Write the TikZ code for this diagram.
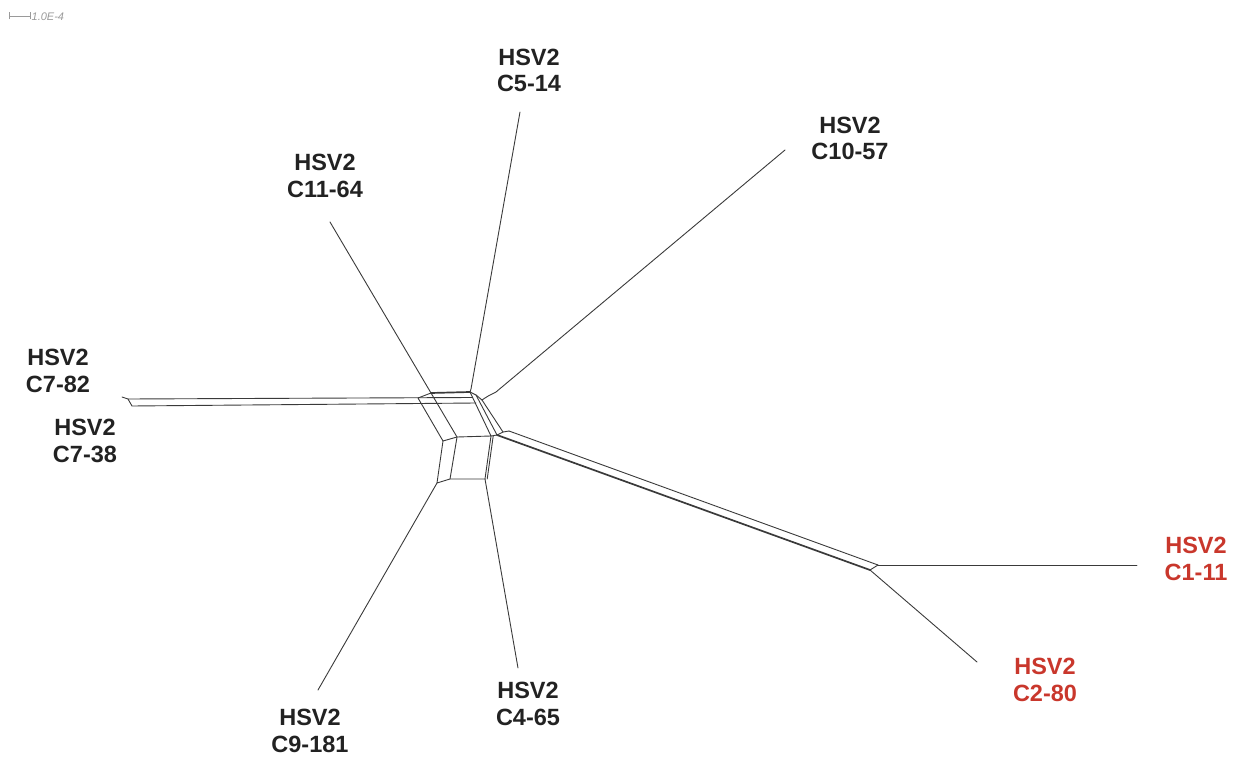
\documentclass[tikz,border=0pt]{standalone}
\usepackage{fontspec}
\setmainfont{Liberation Sans}
\definecolor{edgec}{HTML}{3A3A3A}
\definecolor{labc}{HTML}{222222}
\definecolor{redlab}{HTML}{C9372C}
\definecolor{scalec}{HTML}{9A9A9A}
\tikzset{
  edge/.style={draw=edgec, line width=0.9pt, line cap=round, line join=round},
  thickedge/.style={edge, line width=1.7pt},
  taxon/.style={font=\bfseries\fontsize{23.5}{26.5}\selectfont, text=labc, align=center, inner sep=0pt},
  redtaxon/.style={taxon, text=redlab},
}
\begin{document}
\begin{tikzpicture}[x=1pt, y=-1pt]
\useasboundingbox (0,0) rectangle (1235,757);

% scale bar
\coordinate (sb1) at (9,16);
\coordinate (sb2) at (30,16);
\draw[scalec, line width=0.8pt] (sb1) -- (sb2);
\draw[scalec, line width=0.8pt] ([yshift=-3.5pt]sb1) -- ([yshift=3.5pt]sb1);
\draw[scalec, line width=0.8pt] ([yshift=-3.5pt]sb2) -- ([yshift=3.5pt]sb2);
\node[anchor=west, inner sep=0pt, text=scalec, font=\itshape\fontsize{11}{13}\selectfont] (sblab) at (31.5,17) {1.0E-4};

% taxon labels
\node[taxon] (t514) at (529,70.5) {HSV2\\C5-14};
\node[taxon] (t1164) at (325,176) {HSV2\\C11-64};
\node[taxon] (t1057) at (850,138.5) {HSV2\\C10-57};
\node[taxon] (t782) at (58,371) {HSV2\\C7-82};
\node[taxon] (t738) at (85,441) {HSV2\\C7-38};
\node[redtaxon] (t111) at (1196,559) {HSV2\\C1-11};
\node[redtaxon] (t280) at (1045,680) {HSV2\\C2-80};
\node[taxon] (t465) at (528,704) {HSV2\\C4-65};
\node[taxon] (t9181) at (310,731) {HSV2\\C9-181};

% central splits network: corner points
\coordinate (A) at (431,393);
\coordinate (B) at (470,392);
\coordinate (C) at (491,436);
\coordinate (D) at (457,437);
\coordinate (W1) at (418,398);
\coordinate (W2) at (443,441);
\coordinate (Cv) at (485,479);
\coordinate (Dv) at (450,479);
\coordinate (W2v) at (437,483);
\coordinate (B1) at (476,395);
\coordinate (C1) at (497,435);
\coordinate (B2) at (482,400);
\coordinate (C2) at (503,432);
\coordinate (U0) at (509,431);
\coordinate (U1) at (878,565);
\coordinate (L1) at (870,570);

% leaf ends
\coordinate (e514) at (520,112);
\coordinate (e1164) at (330,222);
\coordinate (e1057) at (785,150);
\coordinate (e782a) at (122,397);
\coordinate (e782) at (128,399);
\coordinate (e738) at (132,406);
\coordinate (e111) at (1137,565);
\coordinate (e280) at (977,662);
\coordinate (e465) at (518,668);
\coordinate (e9181) at (318,690);

% top box and left strip
\draw[thickedge] (A) -- (B);
\draw[edge] (A) -- (D) -- (C) -- (B);
\draw[edge] (A) -- (W1) -- (W2) -- (D);
% right band
\draw[edge] (B) -- (B1) -- (B2);
\draw[edge] (B1) -- (C1);
\draw[edge] (B2) -- (C2);
\draw[edge] (C) -- (C1) -- (C2) -- (U0);
% lower box
\draw[edge] (W2) -- (W2v) -- (Dv) -- (Cv);
\draw[edge] (D) -- (Dv);
\draw[edge] (C) -- (Cv);
\draw[edge] ([xshift=2.2pt]C) -- ([xshift=2.2pt]Cv);

% C7 branch (two parallel edges crossing the box)
\draw[edge] (e782a) -- (e782) -- (472.5,397.5);
\draw[edge] (e782) -- (e738) -- (476,403);

% pendant edges
\draw[edge] (e1164) -- (A);
\draw[edge] (e514) -- (471,389) .. controls (470.5,391) .. (B);
\draw[edge] (e1057) -- (496,392) .. controls (488,396) .. (B2);
\draw[edge] (e9181) -- (W2v);
\draw[edge] (e465) -- (Cv);

% long branch towards C1-11 / C2-80
\draw[thickedge] (C1) -- (L1);
\draw[edge] (U0) -- (U1);
\draw[edge] (L1) -- (U1);
\draw[edge] (U1) -- (e111);
\draw[edge] (L1) -- (e280);
\end{tikzpicture}
\end{document}
